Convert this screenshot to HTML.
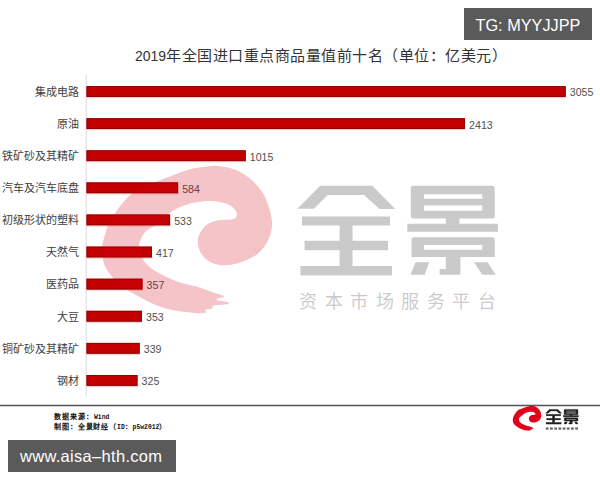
<!DOCTYPE html>
<html lang="zh-CN"><head><meta charset="utf-8">
<style>
*{margin:0;padding:0;box-sizing:border-box}
html,body{width:600px;height:480px;overflow:hidden;background:#fff}
body{position:relative;font-family:"Liberation Sans",sans-serif;color:#333}
svg{position:absolute;left:0;top:0}
.lab{position:absolute;right:521.3px;font-size:11px;line-height:16px;color:#404040;white-space:nowrap}
.val{position:absolute;font-size:10.6px;line-height:14px;color:#505050;white-space:nowrap}
.title{position:absolute;left:135px;top:46px;font-size:15px;letter-spacing:0.5px;line-height:20px;color:#333;white-space:nowrap}
.title span{font-size:14px;letter-spacing:0}
.tg{position:absolute;left:464px;top:8px;width:128px;height:32px;background:#5a5a5a;color:#fff;font-size:16.3px;line-height:34.5px;text-align:center}
.www{position:absolute;left:8px;top:440px;width:168px;height:32px;background:#5a5a5a;color:#fff;font-size:16.5px;line-height:32px;padding-left:12px;letter-spacing:0.3px}
.src{position:absolute;left:54px;font-size:7px;letter-spacing:1px;line-height:10px;font-weight:900;color:#111;white-space:nowrap}
.src i{font-style:normal;font-family:"Liberation Mono",monospace;font-size:6.4px;letter-spacing:0}
</style></head><body>
<svg width="600" height="480" viewBox="0 0 600 480">
<rect x="85.5" y="75" width="1.5" height="321.5" fill="#e6e6e6"/>
<rect x="86.5" y="96.9" width="479.7" height="1.2" fill="#ff8c8c" opacity="0.45"/><rect x="86.5" y="86.1" width="479.2" height="10.8" fill="#c20000"/><rect x="87.0" y="86.6" width="478.2" height="9.8" fill="none" stroke="#8a0000" stroke-opacity="0.85" stroke-width="1"/><rect x="86.5" y="129.0" width="379.0" height="1.2" fill="#ff8c8c" opacity="0.45"/><rect x="86.5" y="118.2" width="378.5" height="10.8" fill="#c20000"/><rect x="87.0" y="118.7" width="377.5" height="9.8" fill="none" stroke="#8a0000" stroke-opacity="0.85" stroke-width="1"/><rect x="86.5" y="161.1" width="159.7" height="1.2" fill="#ff8c8c" opacity="0.45"/><rect x="86.5" y="150.3" width="159.2" height="10.8" fill="#c20000"/><rect x="87.0" y="150.8" width="158.2" height="9.8" fill="none" stroke="#8a0000" stroke-opacity="0.85" stroke-width="1"/><rect x="86.5" y="193.2" width="92.1" height="1.2" fill="#ff8c8c" opacity="0.45"/><rect x="86.5" y="182.4" width="91.6" height="10.8" fill="#c20000"/><rect x="87.0" y="182.9" width="90.6" height="9.8" fill="none" stroke="#8a0000" stroke-opacity="0.85" stroke-width="1"/><rect x="86.5" y="225.3" width="84.1" height="1.2" fill="#ff8c8c" opacity="0.45"/><rect x="86.5" y="214.5" width="83.6" height="10.8" fill="#c20000"/><rect x="87.0" y="215.0" width="82.6" height="9.8" fill="none" stroke="#8a0000" stroke-opacity="0.85" stroke-width="1"/><rect x="86.5" y="257.4" width="65.9" height="1.2" fill="#ff8c8c" opacity="0.45"/><rect x="86.5" y="246.6" width="65.4" height="10.8" fill="#c20000"/><rect x="87.0" y="247.1" width="64.4" height="9.8" fill="none" stroke="#8a0000" stroke-opacity="0.85" stroke-width="1"/><rect x="86.5" y="289.5" width="56.5" height="1.2" fill="#ff8c8c" opacity="0.45"/><rect x="86.5" y="278.7" width="56.0" height="10.8" fill="#c20000"/><rect x="87.0" y="279.2" width="55.0" height="9.8" fill="none" stroke="#8a0000" stroke-opacity="0.85" stroke-width="1"/><rect x="86.5" y="321.6" width="55.9" height="1.2" fill="#ff8c8c" opacity="0.45"/><rect x="86.5" y="310.8" width="55.4" height="10.8" fill="#c20000"/><rect x="87.0" y="311.3" width="54.4" height="9.8" fill="none" stroke="#8a0000" stroke-opacity="0.85" stroke-width="1"/><rect x="86.5" y="353.7" width="53.7" height="1.2" fill="#ff8c8c" opacity="0.45"/><rect x="86.5" y="342.9" width="53.2" height="10.8" fill="#c20000"/><rect x="87.0" y="343.4" width="52.2" height="9.8" fill="none" stroke="#8a0000" stroke-opacity="0.85" stroke-width="1"/><rect x="86.5" y="385.8" width="51.5" height="1.2" fill="#ff8c8c" opacity="0.45"/><rect x="86.5" y="375.0" width="51.0" height="10.8" fill="#c20000"/><rect x="87.0" y="375.5" width="50.0" height="9.8" fill="none" stroke="#8a0000" stroke-opacity="0.85" stroke-width="1"/>
<rect x="0" y="404.7" width="600" height="1.6" fill="#5a5a5a"/>
<path transform="translate(495.6,378) scale(0.168)" d="M206.0,312.5 C204.8,312.6 201.4,313.4 198.8,313.4 C196.1,313.4 194.1,313.0 190.0,312.5 C185.9,312.0 180.1,311.9 174.4,310.6 C168.7,309.4 161.8,307.5 155.6,305.0 C149.3,302.5 142.5,298.7 136.9,295.6 C131.3,292.5 126.3,289.7 121.9,286.2 C117.5,282.8 113.6,278.8 110.6,275.0 C107.6,271.2 105.4,268.1 104.0,263.8 C102.6,259.4 102.2,253.0 102.2,248.8 C102.2,244.5 103.0,241.8 104.0,238.0 C105.0,234.2 106.2,230.0 108.0,226.0 C109.8,222.0 112.5,217.6 114.7,214.0 C116.9,210.4 118.5,208.0 121.3,204.7 C124.1,201.4 127.5,197.0 131.3,194.0 C135.1,191.0 139.8,188.6 144.0,186.5 C148.2,184.4 152.4,183.2 156.7,181.5 C161.0,179.8 165.3,178.3 170.0,176.5 C174.7,174.7 180.2,172.3 185.0,170.8 C189.8,169.3 193.3,168.4 198.8,167.6 C204.2,166.8 211.3,165.5 217.5,165.9 C223.7,166.3 230.4,167.8 236.0,170.0 C241.6,172.2 246.6,175.7 251.0,179.4 C255.4,183.2 259.5,187.8 262.5,192.5 C265.5,197.2 267.4,202.5 269.0,207.5 C270.6,212.5 271.8,218.1 272.0,222.5 C272.2,226.9 271.5,230.4 270.5,234.0 C269.5,237.6 268.2,240.6 266.0,244.0 C263.8,247.4 261.0,251.4 257.0,254.4 C253.0,257.4 247.2,260.1 241.9,261.9 C236.6,263.7 230.3,265.3 225.0,265.3 C219.7,265.3 214.1,264.0 210.0,261.9 C205.9,259.8 202.6,256.0 200.6,252.5 C198.6,249.0 197.8,244.4 197.8,241.0 C197.8,237.6 199.1,234.8 200.6,232.0 C202.1,229.2 204.4,226.4 207.0,224.5 C209.6,222.6 213.0,221.6 216.0,220.8 C219.0,220.0 222.2,220.1 225.0,219.8 C227.8,219.5 231.0,219.8 233.0,219.2 C235.0,218.6 236.3,217.3 236.8,216.0 C237.3,214.7 237.0,213.2 236.0,211.5 C235.0,209.8 233.3,207.5 231.0,206.0 C228.7,204.5 225.5,203.3 222.0,202.5 C218.5,201.7 214.5,201.0 210.0,201.0 C205.5,201.0 200.0,201.5 195.0,202.5 C190.0,203.5 184.2,205.2 180.0,207.0 C175.8,208.8 172.5,211.0 169.5,213.0 C166.5,215.0 164.2,217.0 162.0,219.0 C159.8,221.0 158.6,223.1 156.0,225.0 C153.4,226.9 149.1,228.3 146.7,230.5 C144.2,232.7 142.6,235.4 141.3,238.0 C140.0,240.6 139.2,243.3 139.0,246.0 C138.8,248.7 138.8,251.0 140.0,254.0 C141.2,257.0 143.7,260.9 146.2,263.8 C148.8,266.6 151.5,268.8 155.6,271.2 C159.7,273.8 166.5,276.9 170.6,278.8 C174.7,280.6 175.3,281.1 180.0,282.5 C184.7,283.9 193.4,285.6 198.8,287.2 C204.1,288.8 209.7,291.1 211.9,291.9 L223.1,295.4 Q225,296.4 223.5,297.2 L216.8,298.8 L216.8,300.3 L227.8,302 Q229.9,303.5 227.8,304.3 L214.7,305.3 L211.9,306.6 Q213.4,307.8 211.8,308.7 L204.4,309.8 L206.5,311.8 Z" fill="#e2001a"/>
<g transform="translate(497.0,379.0) scale(0.1635)" fill="#1e1e1e" stroke="#1e1e1e" stroke-width="2.6"><path d="M320.2,185.8 L372.3,185.8 L395.2,209 L379.6,209 L364,195 L327.5,195 L314,208.75 L297.3,208.75 Z"/>
<rect x="302" y="216.5" width="88" height="9"/>
<rect x="304.6" y="240.8" width="83.4" height="9.4"/>
<rect x="300.4" y="266" width="91.6" height="9.4"/>
<rect x="339.6" y="225" width="12.9" height="41.5"/>
<path fill-rule="evenodd" d="M413.3,185.8 L492.3,185.8 Q494.8,185.8 494.8,188.3 L494.8,216 Q494.8,218.5 492.3,218.5 L413.3,218.5 Q410.8,218.5 410.8,216 L410.8,188.3 Q410.8,185.8 413.3,185.8 Z M424,194.2 L482.3,194.2 L482.3,198.75 L424,198.75 Z M424,205.6 L482.3,205.6 L482.3,210.8 L424,210.8 Z"/>
<rect x="445.8" y="218" width="13.6" height="6"/>
<rect x="407.3" y="223.75" width="90.6" height="8"/>
<path fill-rule="evenodd" d="M414,237.3 L492.3,237.3 Q494.8,237.3 494.8,239.8 L494.8,257 L411.5,257 L411.5,239.8 Q411.5,237.3 414,237.3 Z M424,245 L482.3,245 L482.3,249.8 L424,249.8 Z"/>
<path d="M445.8,257 L460.4,257 L460.4,274.8 L439.6,274.8 L439.6,269 L445.8,269 Z"/>
<path d="M415.6,262.3 L429.2,262.3 L424.6,274.8 L410.4,274.8 Z"/>
<path d="M474,262.3 L487.5,262.3 L495.8,274.8 L482.3,274.8 Z"/></g>
<g fill="#6a6a6a"><rect x="545.8" y="427.4" width="2.8" height="2.3"/><rect x="550.0" y="427.4" width="2.8" height="2.3"/><rect x="554.2" y="427.4" width="2.8" height="2.3"/><rect x="558.4" y="427.4" width="2.8" height="2.3"/><rect x="562.6" y="427.4" width="2.8" height="2.3"/><rect x="566.8" y="427.4" width="2.8" height="2.3"/><rect x="571.0" y="427.4" width="2.8" height="2.3"/><rect x="575.2" y="427.4" width="2.8" height="2.3"/></g>
</svg>
<div class="title"><span>2019</span>年全国进口重点商品量值前十名（单位：亿美元）</div>
<div class="lab" style="top:83.8px">集成电路</div><div class="val" style="left:569.8px;top:85.4px">3055</div><div class="lab" style="top:115.9px">原油</div><div class="val" style="left:469.1px;top:117.5px">2413</div><div class="lab" style="top:148.0px">铁矿砂及其精矿</div><div class="val" style="left:249.8px;top:149.6px">1015</div><div class="lab" style="top:180.1px">汽车及汽车底盘</div><div class="val" style="left:182.2px;top:181.7px">584</div><div class="lab" style="top:212.2px">初级形状的塑料</div><div class="val" style="left:174.2px;top:213.8px">533</div><div class="lab" style="top:244.3px">天然气</div><div class="val" style="left:156.0px;top:245.9px">417</div><div class="lab" style="top:276.4px">医药品</div><div class="val" style="left:146.6px;top:278.0px">357</div><div class="lab" style="top:308.5px">大豆</div><div class="val" style="left:146.0px;top:310.1px">353</div><div class="lab" style="top:340.6px">铜矿砂及其精矿</div><div class="val" style="left:143.8px;top:342.2px">339</div><div class="lab" style="top:372.7px">钢材</div><div class="val" style="left:141.6px;top:374.3px">325</div>
<svg width="600" height="480" viewBox="0 0 600 480" style="pointer-events:none"><g opacity="0.23">
<path d="M206.0,312.5 C204.8,312.6 201.4,313.4 198.8,313.4 C196.1,313.4 194.1,313.0 190.0,312.5 C185.9,312.0 180.1,311.9 174.4,310.6 C168.7,309.4 161.8,307.5 155.6,305.0 C149.3,302.5 142.5,298.7 136.9,295.6 C131.3,292.5 126.3,289.7 121.9,286.2 C117.5,282.8 113.6,278.8 110.6,275.0 C107.6,271.2 105.4,268.1 104.0,263.8 C102.6,259.4 102.2,253.0 102.2,248.8 C102.2,244.5 103.0,241.8 104.0,238.0 C105.0,234.2 106.2,230.0 108.0,226.0 C109.8,222.0 112.5,217.6 114.7,214.0 C116.9,210.4 118.5,208.0 121.3,204.7 C124.1,201.4 127.5,197.0 131.3,194.0 C135.1,191.0 139.8,188.6 144.0,186.5 C148.2,184.4 152.4,183.2 156.7,181.5 C161.0,179.8 165.3,178.3 170.0,176.5 C174.7,174.7 180.2,172.3 185.0,170.8 C189.8,169.3 193.3,168.4 198.8,167.6 C204.2,166.8 211.3,165.5 217.5,165.9 C223.7,166.3 230.4,167.8 236.0,170.0 C241.6,172.2 246.6,175.7 251.0,179.4 C255.4,183.2 259.5,187.8 262.5,192.5 C265.5,197.2 267.4,202.5 269.0,207.5 C270.6,212.5 271.8,218.1 272.0,222.5 C272.2,226.9 271.5,230.4 270.5,234.0 C269.5,237.6 268.2,240.6 266.0,244.0 C263.8,247.4 261.0,251.4 257.0,254.4 C253.0,257.4 247.2,260.1 241.9,261.9 C236.6,263.7 230.3,265.3 225.0,265.3 C219.7,265.3 214.1,264.0 210.0,261.9 C205.9,259.8 202.6,256.0 200.6,252.5 C198.6,249.0 197.8,244.4 197.8,241.0 C197.8,237.6 199.1,234.8 200.6,232.0 C202.1,229.2 204.4,226.4 207.0,224.5 C209.6,222.6 213.0,221.6 216.0,220.8 C219.0,220.0 222.2,220.1 225.0,219.8 C227.8,219.5 231.0,219.8 233.0,219.2 C235.0,218.6 236.3,217.3 236.8,216.0 C237.3,214.7 237.0,213.2 236.0,211.5 C235.0,209.8 233.3,207.5 231.0,206.0 C228.7,204.5 225.5,203.3 222.0,202.5 C218.5,201.7 214.5,201.0 210.0,201.0 C205.5,201.0 200.0,201.5 195.0,202.5 C190.0,203.5 184.2,205.2 180.0,207.0 C175.8,208.8 172.5,211.0 169.5,213.0 C166.5,215.0 164.2,217.0 162.0,219.0 C159.8,221.0 158.6,223.1 156.0,225.0 C153.4,226.9 149.1,228.3 146.7,230.5 C144.2,232.7 142.6,235.4 141.3,238.0 C140.0,240.6 139.2,243.3 139.0,246.0 C138.8,248.7 138.8,251.0 140.0,254.0 C141.2,257.0 143.7,260.9 146.2,263.8 C148.8,266.6 151.5,268.8 155.6,271.2 C159.7,273.8 166.5,276.9 170.6,278.8 C174.7,280.6 175.3,281.1 180.0,282.5 C184.7,283.9 193.4,285.6 198.8,287.2 C204.1,288.8 209.7,291.1 211.9,291.9 L223.1,295.4 Q225,296.4 223.5,297.2 L216.8,298.8 L216.8,300.3 L227.8,302 Q229.9,303.5 227.8,304.3 L214.7,305.3 L211.9,306.6 Q213.4,307.8 211.8,308.7 L204.4,309.8 L206.5,311.8 Z" fill="#d40010"/>
<g fill="#1d1d1d"><path d="M320.2,185.8 L372.3,185.8 L395.2,209 L379.6,209 L364,195 L327.5,195 L314,208.75 L297.3,208.75 Z"/>
<rect x="302" y="216.5" width="88" height="9"/>
<rect x="304.6" y="240.8" width="83.4" height="9.4"/>
<rect x="300.4" y="266" width="91.6" height="9.4"/>
<rect x="339.6" y="225" width="12.9" height="41.5"/>
<path fill-rule="evenodd" d="M413.3,185.8 L492.3,185.8 Q494.8,185.8 494.8,188.3 L494.8,216 Q494.8,218.5 492.3,218.5 L413.3,218.5 Q410.8,218.5 410.8,216 L410.8,188.3 Q410.8,185.8 413.3,185.8 Z M424,194.2 L482.3,194.2 L482.3,198.75 L424,198.75 Z M424,205.6 L482.3,205.6 L482.3,210.8 L424,210.8 Z"/>
<rect x="445.8" y="218" width="13.6" height="6"/>
<rect x="407.3" y="223.75" width="90.6" height="8"/>
<path fill-rule="evenodd" d="M414,237.3 L492.3,237.3 Q494.8,237.3 494.8,239.8 L494.8,257 L411.5,257 L411.5,239.8 Q411.5,237.3 414,237.3 Z M424,245 L482.3,245 L482.3,249.8 L424,249.8 Z"/>
<path d="M445.8,257 L460.4,257 L460.4,274.8 L439.6,274.8 L439.6,269 L445.8,269 Z"/>
<path d="M415.6,262.3 L429.2,262.3 L424.6,274.8 L410.4,274.8 Z"/>
<path d="M474,262.3 L487.5,262.3 L495.8,274.8 L482.3,274.8 Z"/></g>
<text x="299.4 324.9 350.4 375.9 401.4 426.9 452.4 477.9" y="308.2" font-size="18" font-weight="300" font-family="Liberation Sans, sans-serif" fill="#1d1d1d">资本市场服务平台</text>
</g></svg>
<div class="tg">TG: MYYJJPP</div>
<div class="src" style="top:411.5px">数据来源：<i>Wind</i></div>
<div class="src" style="top:422px;letter-spacing:0.88px">制图：全景财经（<i>ID</i>：<i>p5w2012</i>）</div>
<div class="www">www.aisa–hth.com</div>
</body></html>
